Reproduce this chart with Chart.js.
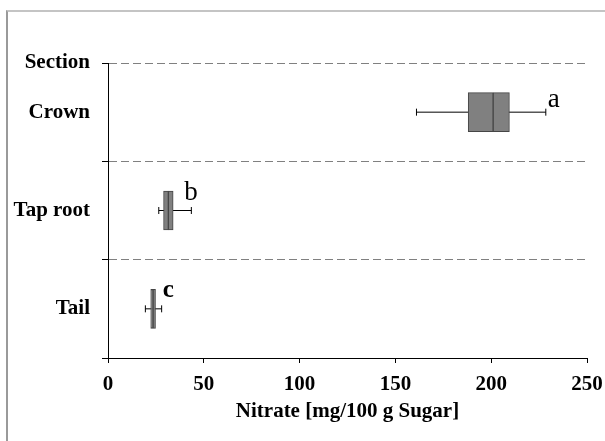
<!DOCTYPE html>
<html><head><meta charset="utf-8">
<script src="https://cdn.jsdelivr.net/npm/chart.js@4.4.0/dist/chart.umd.min.js"></script>
<style>
html,body{margin:0;padding:0;background:#fff;}
#wrap{position:relative;width:605px;height:441px;overflow:hidden;}
#frame{position:absolute;left:6px;top:10px;width:700px;height:600px;border-top:2px solid #c4c4c4;border-left:2px solid #9a9a9a;pointer-events:none;}
canvas{position:absolute;left:0;top:0;}
</style></head><body>
<div id="wrap"><canvas id="c" width="605" height="441"></canvas><div id="frame"></div></div>
<script>
// ---- data ----
const sections = ['Crown', 'Tap root', 'Tail'];
const topLabel = 'Section';
const whiskerMin = [161, 26.5, 19.5];
const q1 = [188, 29, 22.3];
const median = [201, 31.5, 23.5];
const q3 = [209.5, 34, 24.8];
const whiskerMax = [228.5, 43.5, 28];
const groupLetters = ['a', 'b', 'c'];
const xTicks = [0, 50, 100, 150, 200, 250];
const xTitle = 'Nitrate [mg/100 g Sugar]';

// ---- styles ----
const FAM = "'Liberation Serif', 'Times New Roman', serif";
const letterStyle = [
  {dx: 2, dy: -5, font: "27px " + FAM},
  {dx: -7, dy: -11, font: "27px " + FAM},
  {dx: 1, dy: -12, font: "bold 25px " + FAM}
];
const pos = sections.map((s, i) => i + 0.5);
const n = sections.length;

const boxLow = sections.map((s, i) => ({x: [q1[i], median[i]], y: pos[i]}));
const boxHigh = sections.map((s, i) => ({x: [median[i], q3[i]], y: pos[i]}));
const whiskers = [];
sections.forEach((s, i) => {
  whiskers.push({x: whiskerMin[i], y: pos[i]});
  whiskers.push({x: whiskerMax[i], y: pos[i]});
  whiskers.push({x: whiskerMax[i], y: null});
});

const letterPlugin = {
  id: 'letters',
  afterDatasetsDraw(chart) {
    const {ctx, scales} = chart;
    ctx.save();
    ctx.fillStyle = '#000';
    ctx.textAlign = 'left';
    ctx.textBaseline = 'alphabetic';
    groupLetters.forEach((L, i) => {
      const st = letterStyle[i];
      ctx.font = st.font;
      ctx.fillText(L, scales.x.getPixelForValue(whiskerMax[i]) + st.dx, scales.y.getPixelForValue(pos[i]) + st.dy);
    });
    ctx.restore();
  }
};

const transparent = 'rgba(0,0,0,0)';
const boxCommon = {
  type: 'bar', indexAxis: 'y', grouped: false, barThickness: 39,
  backgroundColor: '#808080', borderColor: '#454545', borderWidth: 1, borderSkipped: false, order: 1
};

new Chart(document.getElementById('c'), {
  type: 'bar',
  data: {
    datasets: [
      Object.assign({label: 'Q1-Median', data: boxLow}, boxCommon),
      Object.assign({label: 'Median-Q3', data: boxHigh}, boxCommon),
      {
        type: 'line', label: 'Whiskers', data: whiskers, order: 2,
        borderColor: '#000', borderWidth: 1, spanGaps: false, tension: 0,
        pointStyle: 'line', pointRotation: 90, pointRadius: 3.5,
        pointBorderColor: '#000', pointBorderWidth: 1, pointBackgroundColor: '#000'
      }
    ]
  },
  options: {
    responsive: false, animation: false, devicePixelRatio: 1,
    layout: {padding: {left: 0, top: 63, right: 18, bottom: 16.4}},
    plugins: {legend: {display: false}, tooltip: {enabled: false}},
    scales: {
      x: {
        type: 'linear', min: 0, max: 250, offset: false,
        afterBuildTicks: s => { s.ticks = xTicks.map(v => ({value: v})); },
        afterFit: s => { s.height = 66.6; s.paddingRight = 0; s.paddingLeft = 0; },
        ticks: {font: {family: FAM, size: 21, weight: 'bold'}, color: '#000', padding: 9, maxRotation: 0, autoSkip: false},
        grid: {drawOnChartArea: false, tickLength: 5, tickColor: '#000', offset: false},
        border: {color: '#000', width: 1},
        title: {display: true, text: xTitle, font: {family: FAM, size: 21, weight: 'bold'}, color: '#000', padding: {top: 0, bottom: 0}}
      },
      y: {
        type: 'linear', reverse: true, min: 0, max: n, offset: false,
        afterBuildTicks: s => { const t = []; for (let k = 0; k <= 2 * n; k++) t.push({value: k / 2}); s.ticks = t; },
        afterFit: s => { s.width = 108; },
        ticks: {
          font: {family: FAM, size: 21, weight: 'bold'}, color: '#000', padding: 12, autoSkip: false,
          callback: v => v === 0 ? topLabel : (v % 1 === 0.5 ? sections[Math.floor(v)] : '')
        },
        grid: {
          offset: false,
          color: c => (c.tick && Number.isInteger(c.tick.value) && c.tick.value < n) ? '#808080' : transparent,
          tickColor: c => (c.tick && Number.isInteger(c.tick.value)) ? '#000' : transparent,
          tickLength: 6, lineWidth: 1
        },
        border: {color: '#000', width: 1, dash: [8, 4]}
      }
    }
  },
  plugins: [letterPlugin]
});
</script>
</body></html>
